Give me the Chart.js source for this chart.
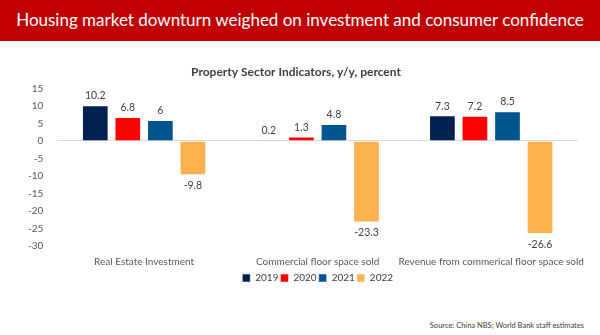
<!DOCTYPE html>
<html>
<head>
<meta charset="utf-8">
<script src="https://cdn.jsdelivr.net/npm/chart.js@4"></script>
<style>
  body { margin: 0; width: 600px; height: 335px; background: #fff; font-family: Lato, "Open Sans", sans-serif; overflow: hidden; position: relative; }
  #banner { position: absolute; left: 0; top: 0; width: 600px; height: 41px; background: #C00000; color: #fff; font-size: 17px; line-height: 40px; text-align: center; white-space: nowrap; }
  #box { position: absolute; left: 0; top: 41px; width: 600px; height: 252px; }
  #source { position: absolute; right: 16px; top: 321px; font-size: 7.5px; color: #404040; }
</style>
</head>
<body>
<div id="banner">Housing market downturn weighed on investment and consumer confidence</div>
<div id="box"><canvas id="chart"></canvas></div>
<div id="source">Source: China NBS; World Bank staff estimates</div>
<script>
const categories = ['Real Estate Investment', 'Commercial floor space sold', 'Revenue from commerical floor space sold'];
const years = ['2019', '2020', '2021', '2022'];
const v2019 = [10.2, 0.2, 7.3];
const v2020 = [6.8, 1.3, 7.2];
const v2021 = [6, 4.8, 8.5];
const v2022 = [-9.8, -23.3, -26.6];
const colors = ['#002050', '#FF0000', '#00558F', '#FDB24F'];

const series = [v2019, v2020, v2021, v2022];

// draw the value over/under each bar
const valueLabels = {
    id: 'valueLabels',
    afterDatasetsDraw(chart) {
        const ctx = chart.ctx;
        ctx.save();
        ctx.font = '10.5px Lato';
        ctx.fillStyle = '#404040';
        ctx.textAlign = 'center';
        chart.data.datasets.forEach((ds, i) => {
            chart.getDatasetMeta(i).data.forEach((bar, j) => {
                const v = ds.data[j];
                if (v >= 0) {
                    ctx.textBaseline = 'bottom';
                    ctx.fillText(String(v), bar.x, bar.y - 4);
                } else {
                    ctx.textBaseline = 'top';
                    ctx.fillText(String(v), bar.x, bar.y + 5);
                }
            });
        });
        ctx.restore();
    }
};

new Chart(document.getElementById('chart'), {
    type: 'bar',
    data: {
        labels: categories,
        datasets: series.map((s, i) => ({
            label: years[i],
            data: s,
            backgroundColor: colors[i],
            borderColor: 'rgba(255,255,255,0.5)',
            borderWidth: 1,
            categoryPercentage: 0.75,
            barPercentage: 0.82
        }))
    },
    options: {
        responsive: true,
        maintainAspectRatio: false,
        animation: false,
        layout: { padding: { left: 14, right: 22, top: 0, bottom: 0 } },
        scales: {
            x: {
                grid: { display: false, drawTicks: false },
                border: { display: false },
                ticks: { color: '#595959', font: { family: 'Lato', size: 10 }, maxRotation: 0, autoSkip: false, padding: 10 },
                // pull the legend closer to the category labels
                afterFit: s => { s.height -= 7; }
            },
            y: {
                min: -30,
                max: 15,
                ticks: { stepSize: 5, autoSkip: false, color: '#595959', font: { family: 'Lato', size: 10 }, padding: 14 },
                border: { display: false },
                grid: {
                    drawTicks: false,
                    color: c => c.tick && c.tick.value === 0 ? '#D9D9D9' : 'rgba(0,0,0,0)'
                }
            }
        },
        plugins: {
            title: {
                display: true,
                text: 'Property Sector Indicators, y/y, percent',
                color: '#404040',
                font: { family: 'Lato', size: 12, weight: 'bold' },
                padding: { top: 24, bottom: 9 }
            },
            legend: {
                position: 'bottom',
                fullSize: false,
                labels: { boxWidth: 8, boxHeight: 8, color: '#404040', font: { family: 'Lato', size: 10 }, padding: 2 }
            },
            tooltip: { enabled: false }
        }
    },
    plugins: [valueLabels]
});
</script>
</body>
</html>
